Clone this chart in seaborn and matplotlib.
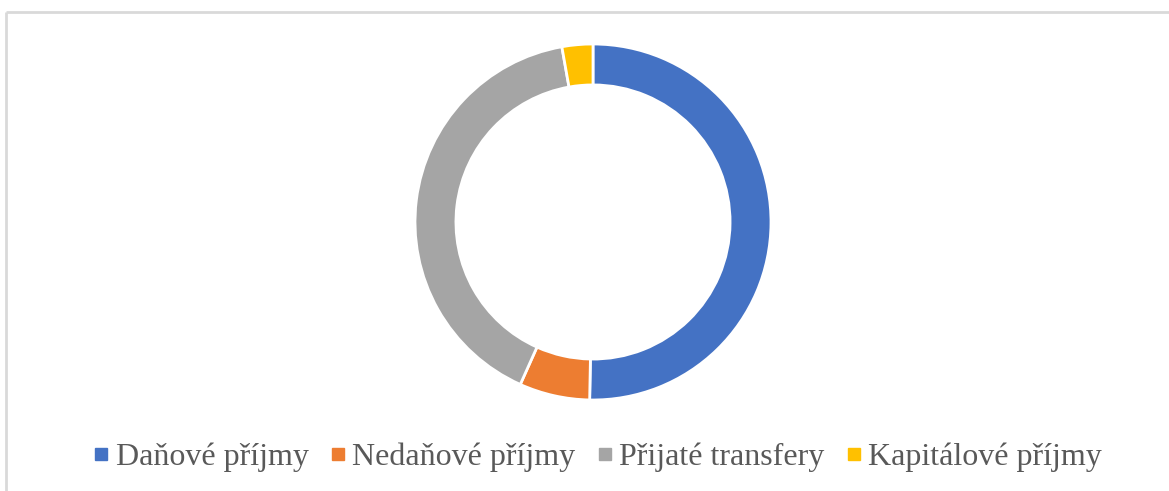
import matplotlib
matplotlib.use("Agg")
import matplotlib.pyplot as plt
import seaborn as sns
from matplotlib.lines import Line2D

sns.set_theme(style="white")
plt.rcParams['font.family'] = ['Liberation Serif', 'DejaVu Serif']

categories = ["Daňové příjmy", "Nedaňové příjmy", "Přijaté transfery", "Kapitálové příjmy"]
values = [50.3, 6.4, 40.5, 2.8]
colors = ["#4472C4", "#ED7D31", "#A5A5A5", "#FFC000"]

fig = plt.figure(figsize=(11.69, 4.91), dpi=100)
ax = fig.add_axes([0, 0, 1, 1])
ax.set_xlim(0, 1169)
ax.set_ylim(491, 0)
ax.axis("off")

# chart border (top and left visible)
ax.plot([6, 6], [491, 12], color="#D9D9D9", lw=2, solid_capstyle="butt")
ax.plot([6, 1169], [12, 12], color="#D9D9D9", lw=2, solid_capstyle="butt")

# donut
r_px = 178
cx, cy = 593, 222
pax = fig.add_axes([(cx - r_px) / 1169, 1 - (cy + r_px) / 491, 2 * r_px / 1169, 2 * r_px / 491])
pax.pie(values, colors=colors, startangle=90, counterclock=False, radius=1,
        wedgeprops=dict(width=0.23, edgecolor="white", linewidth=2))
pax.set_aspect("equal")
pax.set_xlim(-1, 1)
pax.set_ylim(-1, 1)
pax.axis("off")

handles = [Line2D([0], [0], marker="s", linestyle="", markersize=8,
                  markerfacecolor=c, markeredgecolor=c) for c in colors]
leg = fig.legend(handles, categories, loc="center", bbox_to_anchor=(597 / 1169, 1 - 457 / 491),
                 ncol=4, frameon=False, fontsize=23, handletextpad=0.15, columnspacing=0.62,
                 handlelength=0.6)
for t in leg.get_texts():
    t.set_color("#595959")

fig.savefig("out.png", dpi=100)
